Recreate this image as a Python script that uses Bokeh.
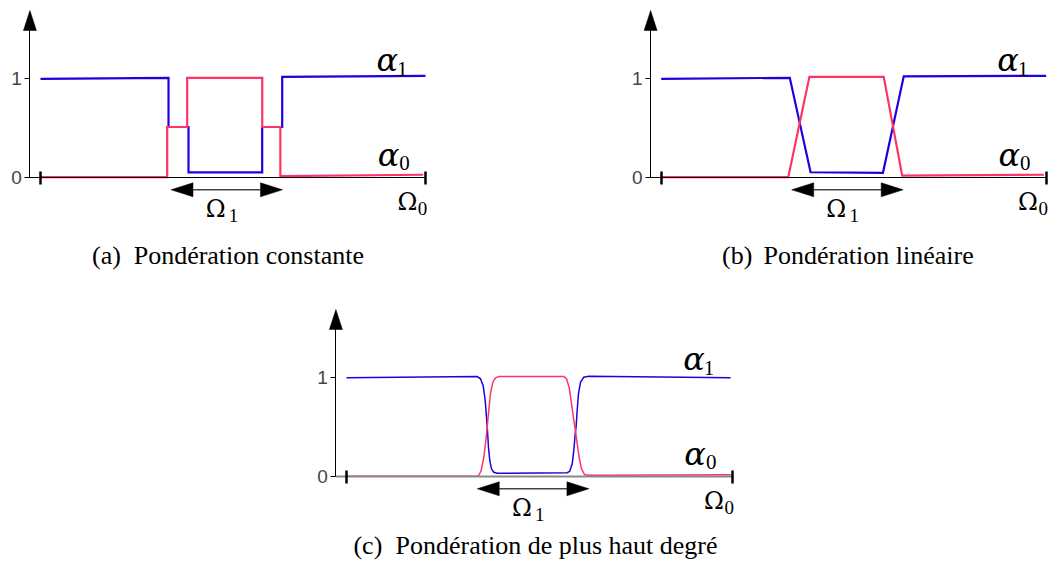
from bokeh.plotting import figure
from bokeh.models import LinearAxis, FixedTicker
from bokeh.layouts import column, row
from bokeh.core.properties import value
from bokeh.embed import file_html
from bokeh.resources import INLINE

# ---------------- data ----------------
# (a) constant weighting
blue_a_x = [0, 33.25, 33.25, 38.44, 38.44, 57.58, 57.58, 62.78, 62.78, 100]
blue_a_y = [1.0, 1.01, 0.51, 0.51, 0.05, 0.05, 0.51, 0.51, 1.02, 1.03]
red_a_x = [0, 32.9, 32.9, 38.1, 38.1, 57.6, 57.6, 62.3, 62.3, 99.4]
red_a_y = [0, 0, 0.51, 0.51, 1.01, 1.01, 0.51, 0.51, 0.01, 0.025]

# (b) linear weighting
blue_b_x = [0, 33.4, 38.8, 57.6, 63.0, 100]
blue_b_y = [1.0, 1.01, 0.05, 0.045, 1.025, 1.03]
red_b_x = [0, 33.0, 38.5, 57.8, 62.6, 99.4]
red_b_y = [0, 0, 1.02, 1.02, 0.015, 0.025]

# (c) higher degree weighting
blue_c_x = [0, 33.89, 34.74, 35.44, 35.96, 36.30, 36.56, 36.82, 37.15, 37.59, 38.19, 39.07,
            57.22, 57.89, 58.52, 58.93, 59.30, 59.56, 59.81, 60.15, 60.67, 61.52, 62.82, 99.6]
blue_c_y = [1.0, 1.013, 0.99, 0.92, 0.77, 0.60, 0.46, 0.29, 0.16, 0.075, 0.04, 0.03,
            0.035, 0.05, 0.126, 0.26, 0.43, 0.515, 0.67, 0.84, 0.955, 1.006, 1.016, 1.0]
red_c_x = [0, 33.89, 34.30, 34.92, 35.60, 36.12, 36.48, 36.89, 37.33, 37.93, 38.63, 39.49,
           56.34, 57.04, 57.74, 58.33, 58.93, 59.37, 59.81, 60.33, 60.92, 61.71, 62.82, 99.6]
red_c_y = [0, 0, 0.007, 0.058, 0.19, 0.36, 0.50, 0.67, 0.84, 0.955, 1.0, 1.013,
           1.013, 0.99, 0.90, 0.74, 0.57, 0.46, 0.33, 0.19, 0.075, 0.017, 0.01, 0.014]

y_ticks = [0, 1]
y_tick_labels = {0: "0", 1: "1"}
x_domain = [0, 100]          # Omega_0 extent
omega1 = [33.9, 62.85]       # Omega_1 extent
y_axis_x = -2.75
y_axis_top = 1.694
arrow_y = -0.128

alpha_names = ["α", "α"]
alpha_subs = ["1", "0"]
alpha_x = [87.3, 87.6]
alpha_y = [1.074, 0.109]
alpha_sub_x = [92.6, 93.2]
alpha_sub_y = [1.023, 0.068]

omega_names = ["Ω", "Ω"]
omega_subs = ["1", "0"]
omega_x = [42.9, 92.7]
omega_y = [-0.41, -0.338]
omega_sub_x = [48.9, 98.0]
omega_sub_y = [-0.46, -0.389]

caption_tags = ["(a)", "(b)", "(c)"]
caption_texts = ["Pondération constante", "Pondération linéaire", "Pondération de plus haut degré"]

BLUE = "#2200dd"
RED = "#ff3366"
SERIF = value("Liberation Serif")
MATH = value("DejaVu Serif")
BASE_SHIFT = 0.35   # em offset compensating the renderer's baseline placement


def panel(W, H, fx, fy, x0px, y0px, sx, sy, bx, by, rx, ry, lw, axis_col, axis_w,
          tag, text, tag_x, text_x, cap_y):
    xr = ((fx - x0px) / sx, (fx + W - x0px) / sx)
    yr = ((y0px - (fy + H)) / sy, (y0px - fy) / sy)
    p = figure(width=W, height=H, x_range=xr, y_range=yr, output_backend="svg",
               toolbar_location=None, x_axis_type=None, y_axis_type=None,
               min_border=0, outline_line_color=None,
               background_fill_color="white", border_fill_color="white")

    def up(ys, fs):
        return [v + BASE_SHIFT * fs / sy for v in ys]

    # y axis
    ya = LinearAxis(fixed_location=y_axis_x, bounds=(0, y_axis_top - 0.1),
                    ticker=FixedTicker(ticks=y_ticks),
                    major_label_overrides=y_tick_labels,
                    major_tick_out=5, major_tick_in=0,
                    minor_tick_out=0, minor_tick_in=0,
                    axis_line_color="black", axis_line_width=1,
                    major_tick_line_color="black", major_tick_line_width=1,
                    major_label_text_font="Liberation Sans",
                    major_label_text_font_size="19px",
                    major_label_text_color="#444444",
                    major_label_standoff=3)
    p.add_layout(ya, "left")
    # x axis
    xa = LinearAxis(fixed_location=0, bounds=(y_axis_x, x_domain[1]),
                    ticker=FixedTicker(ticks=x_domain),
                    major_label_overrides={0: "", 100: ""},
                    major_tick_out=7, major_tick_in=6,
                    minor_tick_out=0, minor_tick_in=0,
                    axis_line_color=axis_col, axis_line_width=axis_w,
                    major_tick_line_color="black", major_tick_line_width=2.5,
                    major_label_text_font_size="0px")
    p.add_layout(xa, "below")

    # y-axis arrow head
    hl, hw = 20 / sy, 6.5 / sx
    p.patch([y_axis_x - hw, y_axis_x, y_axis_x + hw],
            [y_axis_top - hl, y_axis_top, y_axis_top - hl],
            color="black", line_width=0.5)

    # Omega_1 double arrow
    L, h = 22 / sx, 7 / sy
    p.segment(x0=[omega1[0] + L], y0=[arrow_y], x1=[omega1[1] - L], y1=[arrow_y],
              line_color="#444444", line_width=1.6)
    p.patches([[omega1[0], omega1[0] + L, omega1[0] + L],
               [omega1[1], omega1[1] - L, omega1[1] - L]],
              [[arrow_y, arrow_y + h, arrow_y - h],
               [arrow_y, arrow_y + h, arrow_y - h]],
              color="black", line_width=0.5)

    # curves
    p.line(bx, by, line_color=BLUE, line_width=lw, line_join="miter")
    p.line(rx, ry, line_color=RED, line_width=lw, line_join="miter")

    # labels
    p.text(alpha_x, up(alpha_y, 32), text=alpha_names, text_font=MATH, text_font_style="italic",
           text_font_size="32px", text_baseline="alphabetic", text_color="black")
    p.text(alpha_sub_x, up(alpha_sub_y, 21), text=alpha_subs, text_font=SERIF,
           text_font_size="21px", text_baseline="alphabetic", text_color="black")
    p.text(omega_x, up(omega_y, 24), text=omega_names, text_font=MATH,
           text_font_size="24px", text_baseline="alphabetic", text_color="black")
    p.text(omega_sub_x, up(omega_sub_y, 19), text=omega_subs, text_font=SERIF,
           text_font_size="19px", text_baseline="alphabetic", text_color="black")

    # caption
    p.text([tag_x], up([cap_y], 26), text=[tag], text_font=SERIF, text_font_size="26px",
           text_baseline="alphabetic", text_color="black")
    p.text([text_x], up([cap_y], 26), text=[text], text_font=SERIF, text_font_size="26px",
           text_baseline="alphabetic", text_color="black")
    return p


pa = panel(448, 298, 0, 0, 40, 176.7, 3.85, 98.4, blue_a_x, blue_a_y, red_a_x, red_a_y,
           2.2, "black", 1, caption_tags[0], caption_texts[0], 13.4, 24.2, -0.89)
pb = panel(601, 298, 448, 0, 660.7, 176.7, 3.85, 98.4, blue_b_x, blue_b_y, red_b_x, red_b_y,
           2.2, "black", 1, caption_tags[1], caption_texts[1], 15.8, 26.6, -0.89)
pc = panel(1049, 272, 0, 298, 346, 475.7, 3.857, 98.4, blue_c_x, blue_c_y, red_c_x, red_c_y,
           1.5, "#888888", 2, caption_tags[2], caption_texts[2], 1.8, 12.7, -0.80)

layout = column(row(pa, pb), pc)
open("out.html", "w").write(file_html(layout, INLINE))
